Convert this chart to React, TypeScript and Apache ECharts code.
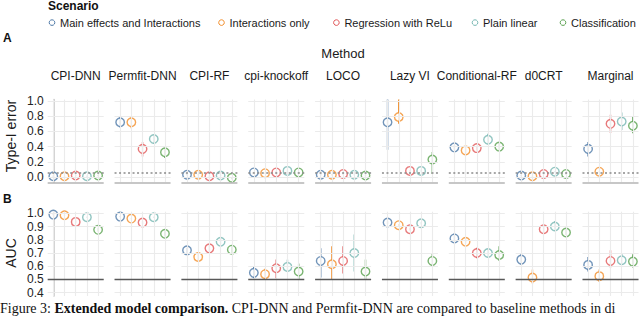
import React, { useEffect, useRef } from 'react';
import * as echarts from 'echarts';

const scenarios = ['Main effects and Interactions', 'Interactions only', 'Regression with ReLu', 'Plain linear', 'Classification'];
const methods = ['CPI-DNN', 'Permfit-DNN', 'CPI-RF', 'cpi-knockoff', 'LOCO', 'Lazy VI', 'Conditional-RF', 'd0CRT', 'Marginal'];
const colors = ['#4E79A7', '#F28E2B', '#E15759', '#76B7B2', '#59A14F'];

// Panel A: Type-I error (one row per method, one value per scenario)
const typeIMean = [
  [0.01, 0.01, 0.02, 0.01, 0.02],
  [0.72, 0.72, 0.37, 0.50, 0.325],
  [0.03, 0.03, 0.01, 0.02, -0.01],
  [0.06, 0.05, 0.06, 0.08, 0.06],
  [0.03, 0.03, 0.04, 0.03, 0.02],
  [0.72, 0.79, 0.08, 0.08, 0.23],
  [0.39, 0.35, 0.38, 0.49, 0.40],
  [0.02, 0.01, 0.04, 0.07, 0.04],
  [0.37, 0.07, 0.70, 0.73, 0.675],
];
const typeILo = [
  [0.0, 0.0, 0.01, 0.0, 0.01],
  [0.65, 0.64, 0.27, 0.44, 0.25],
  [0.02, 0.02, 0.0, 0.01, -0.03],
  [0.05, 0.04, 0.04, 0.06, 0.05],
  [0.02, 0.02, 0.03, 0.02, 0.01],
  [0.36, 0.70, 0.07, 0.07, 0.04],
  [0.36, 0.29, 0.35, 0.43, 0.35],
  [0.01, 0.0, 0.03, 0.06, 0.03],
  [0.27, 0.06, 0.58, 0.62, 0.575],
];
const typeIHi = [
  [0.02, 0.02, 0.03, 0.02, 0.03],
  [0.79, 0.79, 0.46, 0.55, 0.38],
  [0.04, 0.04, 0.02, 0.03, 0.0],
  [0.07, 0.06, 0.08, 0.10, 0.07],
  [0.04, 0.04, 0.05, 0.04, 0.03],
  [1.05, 1.05, 0.09, 0.10, 0.33],
  [0.42, 0.41, 0.41, 0.57, 0.45],
  [0.03, 0.02, 0.05, 0.08, 0.05],
  [0.46, 0.08, 0.82, 0.85, 0.80],
];

// Panel B: AUC
const aucMean = [
  [0.99, 0.985, 0.935, 0.97, 0.875],
  [0.975, 0.96, 0.93, 0.97, 0.845],
  [0.72, 0.67, 0.735, 0.785, 0.725],
  [0.55, 0.54, 0.585, 0.595, 0.56],
  [0.64, 0.615, 0.64, 0.70, 0.56],
  [0.93, 0.91, 0.88, 0.925, 0.64],
  [0.81, 0.785, 0.70, 0.70, 0.685],
  [0.65, 0.515, 0.88, 0.90, 0.855],
  [0.61, 0.525, 0.64, 0.645, 0.635],
];
const aucLo = [
  [0.985, 0.98, 0.925, 0.965, 0.86],
  [0.97, 0.955, 0.92, 0.965, 0.825],
  [0.70, 0.64, 0.71, 0.765, 0.70],
  [0.51, 0.50, 0.51, 0.56, 0.50],
  [0.515, 0.495, 0.545, 0.56, 0.495],
  [0.92, 0.90, 0.87, 0.915, 0.595],
  [0.78, 0.77, 0.66, 0.67, 0.64],
  [0.61, 0.47, 0.85, 0.87, 0.835],
  [0.56, 0.48, 0.59, 0.61, 0.59],
];
const aucHi = [
  [0.995, 0.99, 0.945, 0.975, 0.89],
  [0.98, 0.965, 0.94, 0.975, 0.865],
  [0.74, 0.70, 0.76, 0.805, 0.75],
  [0.595, 0.58, 0.65, 0.65, 0.62],
  [0.735, 0.75, 0.75, 0.84, 0.65],
  [0.94, 0.92, 0.89, 0.935, 0.70],
  [0.85, 0.80, 0.74, 0.73, 0.75],
  [0.70, 0.575, 0.91, 0.94, 0.875],
  [0.67, 0.575, 0.72, 0.70, 0.69],
];

const typeITicks = [0, 0.2, 0.4, 0.6, 0.8, 1.0];
const aucTicks = [0.4, 0.5, 0.6, 0.7, 0.8, 0.9, 1.0];
const typeIRef = 0.05;
const aucRef = 0.5;

const FONT = '"Liberation Sans", Arial, Helvetica, sans-serif';

function buildOption() {
  const facetLeft0 = 47.7;
  const facetStep = 66.85;
  const facetW = 56;
  const panels = [
    { top: 99.5, height: 82.8, min: -0.07, max: 1.02, mean: typeIMean, lo: typeILo, hi: typeIHi, ticks: typeITicks },
    { top: 211.7, height: 84.3, min: 0.375, max: 1.012, mean: aucMean, lo: aucLo, hi: aucHi, ticks: aucTicks },
  ];
  const grid: any[] = [];
  const xAxis: any[] = [];
  const yAxis: any[] = [];
  const series: any[] = [];
  panels.forEach((p, pi) => {
    methods.forEach((m, mi) => {
      const gi = grid.length;
      grid.push({ left: facetLeft0 + facetStep * mi, width: facetW, top: p.top, height: p.height });
      xAxis.push({ type: 'value', gridIndex: gi, min: -0.5, max: 4.5, show: false });
      yAxis.push({
        type: 'value', gridIndex: gi, min: p.min, max: p.max,
        show: mi === 0,
        splitLine: { show: false },
        axisTick: { show: false },
        axisLine: { show: mi === 0, lineStyle: { color: '#c4c4c4', width: 1.5 } },
        axisLabel: {
          show: mi === 0,
          customValues: p.ticks,
          formatter: (v: number) => v.toFixed(1),
          fontSize: 12, color: '#222', fontFamily: FONT, margin: 4,
        },
      });
      const refLines: any[] = [];
      p.ticks.forEach((t) => refLines.push({ yAxis: t, lineStyle: { color: '#ebebeb', width: 1, type: 'solid' } }));
      scenarios.forEach((_, si) => refLines.push({ xAxis: si, lineStyle: { color: '#ebebeb', width: 1.1, type: 'solid' } }));
      if (pi === 0) {
        refLines.push({ yAxis: -0.065, lineStyle: { color: '#b5b5b5', width: 1.6, type: 'solid' } });
        refLines.push({ yAxis: typeIRef, lineStyle: { color: '#8a8a8a', width: 1.6, type: [2, 2.5] } });
      } else {
        refLines.push({ yAxis: aucRef, lineStyle: { color: '#585858', width: 1.3, type: 'solid' } });
      }
      series.push({
        type: 'scatter', xAxisIndex: gi, yAxisIndex: gi, data: [], z: 1, silent: true,
        markLine: { silent: true, symbol: ['none', 'none'], label: { show: false }, animation: false, data: refLines },
      });
      series.push({
        type: 'custom', xAxisIndex: gi, yAxisIndex: gi, z: 3, clip: true, silent: true,
        data: scenarios.map((_, si) => [si, p.lo[mi][si], p.hi[mi][si], si]),
        encode: { x: 0, y: [1, 2] },
        renderItem: (params: any, api: any) => {
          const x = api.value(0);
          const a = api.coord([x, api.value(1)]);
          const b = api.coord([x, api.value(2)]);
          return {
            type: 'line',
            shape: { x1: a[0], y1: a[1], x2: b[0], y2: b[1] },
            style: { stroke: colors[api.value(3)], lineWidth: 1.4 },
          };
        },
      });
      series.push({
        type: 'scatter', xAxisIndex: gi, yAxisIndex: gi, z: 4, silent: true,
        symbol: 'circle', symbolSize: 8.5,
        data: scenarios.map((_, si) => ({
          value: [si, p.mean[mi][si]],
          itemStyle: { color: '#ffffff', borderColor: colors[si], borderWidth: 1.4 },
        })),
      });
    });
  });

  const graphic: any[] = [];
  graphic.push({ type: 'text', left: 48, top: 0, style: { text: 'Scenario', font: `bold 12px ${FONT}`, fill: '#111' } });
  const legendX = [52, 221.5, 336.4, 475, 563];
  scenarios.forEach((s, si) => {
    graphic.push({ type: 'circle', shape: { cx: legendX[si], cy: 22.6, r: 2.8 }, style: { fill: '#fff', stroke: colors[si], lineWidth: 1 } });
    graphic.push({ type: 'text', x: legendX[si] + 8, y: 22.6, style: { text: s, font: `11px ${FONT}`, fill: '#1a1a1a', verticalAlign: 'middle' } });
  });
  graphic.push({ type: 'text', x: 3, y: 37.5, style: { text: 'A', font: `bold 12px ${FONT}`, fill: '#111', verticalAlign: 'middle' } });
  graphic.push({ type: 'text', x: 3, y: 198.5, style: { text: 'B', font: `bold 12px ${FONT}`, fill: '#111', verticalAlign: 'middle' } });
  graphic.push({ type: 'text', x: 343, y: 53.3, style: { text: 'Method', font: `13px ${FONT}`, fill: '#1a1a1a', align: 'center', verticalAlign: 'middle' } });
  methods.forEach((m, mi) => {
    graphic.push({ type: 'text', x: facetLeft0 + facetStep * mi + facetW / 2, y: 75.7, style: { text: m, font: `12px ${FONT}`, fill: '#1a1a1a', align: 'center', verticalAlign: 'middle' } });
  });
  graphic.push({ type: 'text', x: 10.5, y: 136, rotation: Math.PI / 2, style: { text: 'Type-I error', font: `14px ${FONT}`, fill: '#1a1a1a', align: 'center', verticalAlign: 'middle' } });
  graphic.push({ type: 'text', x: 10.5, y: 253, rotation: Math.PI / 2, style: { text: 'AUC', font: `14px ${FONT}`, fill: '#1a1a1a', align: 'center', verticalAlign: 'middle' } });
  graphic.push({
    type: 'text', x: 0, y: 301.5,
    style: {
      text: '{n|Figure 3: }{b|Extended model comparison.}{n| CPI-DNN and Permfit-DNN are compared to baseline methods in di}',
      rich: {
        n: { font: `14px "Liberation Serif", "DejaVu Serif", serif`, fill: '#111' },
        b: { font: `bold 14px "Liberation Serif", "DejaVu Serif", serif`, fill: '#111' },
      },
      verticalAlign: 'top',
    },
  });

  return {
    animation: false,
    backgroundColor: '#ffffff',
    textStyle: { fontFamily: FONT },
    grid, xAxis, yAxis, series, graphic,
  };
}

export default function App() {
  const ref = useRef<HTMLDivElement>(null);
  useEffect(() => {
    const chart = echarts.init(ref.current!, null, { renderer: 'svg' });
    chart.setOption(buildOption() as any);
    return () => chart.dispose();
  }, []);
  return <div ref={ref} style={{ position: 'absolute', left: 0, top: 0, width: 640, height: 316 }} />;
}
